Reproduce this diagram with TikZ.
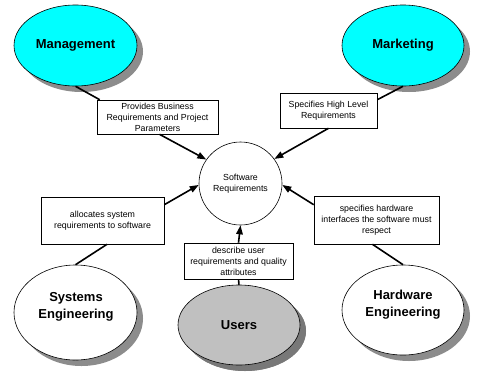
\documentclass[tikz,border=0pt]{standalone}
\usepackage{fontspec}
\setmainfont{Liberation Sans}
\usetikzlibrary{shapes.geometric,arrows.meta,shadows}
\definecolor{cyanfill}{RGB}{0,255,255}
\definecolor{userfill}{RGB}{192,192,192}
\definecolor{shadowgray}{RGB}{140,140,140}
\definecolor{usershadow}{RGB}{120,120,120}
\tikzset{
  actor/.style={ellipse, draw=black, line width=0.6pt, inner sep=0pt,
    drop shadow={shadow xshift=6pt, shadow yshift=-6pt, fill=shadowgray, opacity=1}},
  actortext/.style={font=\fontsize{13}{17}\selectfont\bfseries, align=center, inner sep=0pt},
  notebox/.style={rectangle, draw=black, line width=0.6pt, fill=white, inner sep=0pt,
    font=\fontsize{8.8}{11}\selectfont, align=center},
  link/.style={line width=1.6pt},
  arrowlink/.style={line width=1.6pt, -{Triangle[length=9pt,width=6.5pt]}}
}
\begin{document}
\begin{tikzpicture}[x=1pt,y=-1pt]
\useasboundingbox[fill=white] (0,0) rectangle (477,381);
% actors
\node[actor, fill=cyanfill, minimum width=123pt, minimum height=81pt] (mgmt) at (75.5,45.5) {};
\node[actortext] (mgmttxt) at (75.5,45) {Management};
\node[actor, fill=cyanfill, minimum width=122pt, minimum height=81pt] (mkt) at (403,45.5) {};
\node[actortext] (mkttxt) at (403,45) {Marketing};
\node[actor, fill=white, minimum width=123pt, minimum height=95pt] (sys) at (75.5,312.5) {};
\node[actortext] (systxt) at (76,306.5) {Systems\\Engineering};
\node[actor, fill=userfill, minimum width=122pt, minimum height=80pt,
  drop shadow={shadow xshift=6pt, shadow yshift=-6pt, fill=usershadow, opacity=1}] (users) at (239,325) {};
\node[actortext] (userstxt) at (239,325) {Users};
\node[actor, fill=white, minimum width=122pt, minimum height=90pt] (hw) at (403,310) {};
\node[actortext] (hwtxt) at (403,305) {Hardware\\Engineering};
% central circle
\node[circle, draw=black, line width=0.6pt, fill=white, minimum size=83pt, inner sep=0pt,
  font=\fontsize{8.8}{11}\selectfont, align=center] (sr) at (240.5,183.5) {Software\\Requirements};
% boxes
\node[notebox, minimum width=121pt, minimum height=34pt] (box1) at (157.5,117) {Provides Business\\Requirements and Project\\Parameters};
\node[notebox, minimum width=97pt, minimum height=35pt] (box2) at (328.5,110.5) {Specifies High Level\\Requirements};
\node[notebox, minimum width=123pt, minimum height=47pt] (box3) at (102.5,220.5) {allocates system\\requirements to software};
\node[notebox, minimum width=109pt, minimum height=36pt] (box4) at (238.5,261) {describe user\\requirements and quality\\attributes};
\node[notebox, minimum width=125pt, minimum height=48pt] (box5) at (376.5,220) {specifies hardware\\interfaces the software must\\respect};
% connectors from the actors to the boxes
\draw[link] (mgmt.south) -- ([xshift=3pt]box1.north west);
\draw[link] (mkt.south) -- ([yshift=-7pt]box2.north east);
\draw[link] (sys.north) -- ([xshift=4.5pt]box3.south);
\draw[link] (users.north) -- (box4.south);
\draw[link] (hw.north) -- ([xshift=-4pt]box5.south);
% arrows into the circle
\draw[arrowlink] ([xshift=2pt]box1.south) -- (sr.145);
\draw[arrowlink] (box2.south) -- (sr.36);
\draw[arrowlink] ([yshift=-8pt]box3.north east) -- (sr.182);
\draw[arrowlink] (box4.north) -- (sr.south);
\draw[arrowlink] ([yshift=-9pt]box5.north west) -- (sr.358);
\end{tikzpicture}
\end{document}
